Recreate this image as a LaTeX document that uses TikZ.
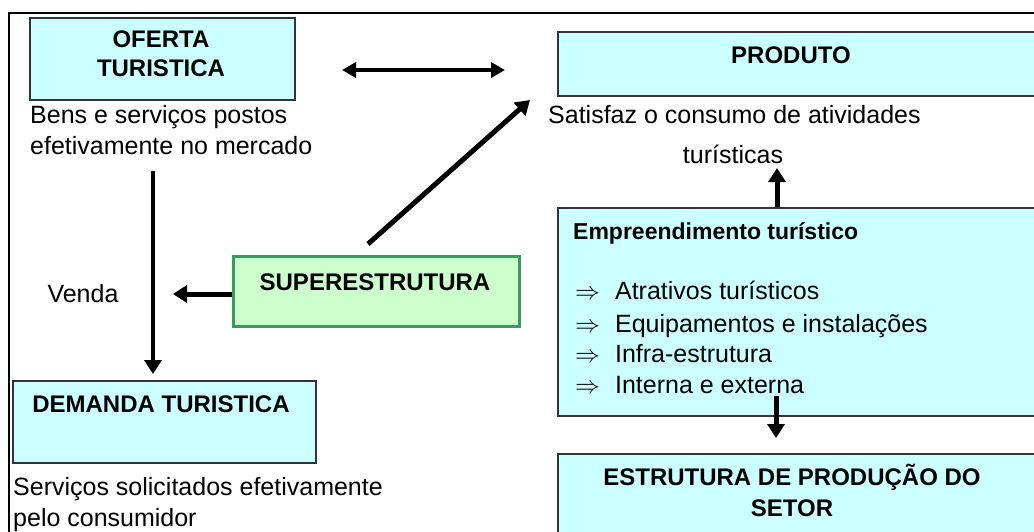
\documentclass[tikz,border=0pt]{standalone}
\usepackage{fontspec}
\setmainfont{Liberation Sans}
\usetikzlibrary{arrows.meta}
\definecolor{cyanfill}{HTML}{CCFFFF}
\definecolor{greenfill}{HTML}{CCFFCC}
\definecolor{greenline}{HTML}{3A9A60}
\definecolor{boxline}{HTML}{333333}
\tikzset{
  cyanbox/.style={draw=boxline, line width=1.5pt, fill=cyanfill, anchor=north west, inner sep=0pt},
  greenbox/.style={draw=greenline, line width=2.5pt, fill=greenfill, anchor=north west, inner sep=0pt},
  ttl/.style={font=\fontsize{24}{29}\selectfont\bfseries, inner sep=0pt, anchor=base},
  txt/.style={font=\fontsize{25}{30}\selectfont, inner sep=0pt, anchor=base west},
  thick arrow/.style={line width=5pt, -{Triangle[length=14pt,width=17pt]}},
}
\begin{document}
\begin{tikzpicture}[x=1pt,y=-1pt]
\useasboundingbox (0,0) rectangle (1034,531);
\clip (0,0) rectangle (1034,531);
\fill[white] (0,0) rectangle (1034,531);
% frame
\draw[line width=2pt] (9,560) -- (9,13) -- (1060,13);
% boxes
\node[cyanbox, minimum width=265pt, minimum height=82pt] (oferta) at (29,17) {};
\node[cyanbox, minimum width=500pt, minimum height=64pt] (produto) at (557,31) {};
\node[cyanbox, minimum width=500pt, minimum height=208pt] (empre) at (557,207) {};
\node[cyanbox, minimum width=500pt, minimum height=120pt] (estrutura) at (557,453) {};
\node[greenbox, minimum width=286pt, minimum height=70pt] (super) at (232,255) {};
\node[cyanbox, minimum width=303pt, minimum height=82pt] (demanda) at (12,380) {};
% titles
\node[ttl] (t1) at (161,47) {OFERTA};
\node[ttl] (t2) at (161,76) {TURISTICA};
\node[ttl] (t3) at (791,63) {PRODUTO};
\node[ttl] (t4) at (375,290) {SUPERESTRUTURA};
\node[ttl] (t5) at (161,412) {DEMANDA TURISTICA};
\node[ttl] (t6) at (792,485) {ESTRUTURA DE PRODUÇÃO DO};
\node[ttl] (t7) at (792,516) {SETOR};
\node[ttl, anchor=base west, font=\fontsize{23}{28}\selectfont\bfseries] (t8) at (573,239) {Empreendimento turístico};
% texts
\node[txt] (bens1) at (30,123) {Bens e serviços postos};
\node[txt] (bens2) at (30,154) {efetivamente no mercado};
\node[txt] (sat1) at (548,123) {Satisfaz o consumo de atividades};
\node[txt, anchor=base] (sat2) at (733,163) {turísticas};
\node[txt, anchor=base] (venda) at (83,302) {Venda};
\node[txt] (serv1) at (13,495) {Serviços solicitados efetivamente};
\node[txt] (serv2) at (13,526) {pelo consumidor};
\node[txt] (i1) at (575,299) {$\Rightarrow$\hspace{15pt}Atrativos turísticos};
\node[txt] (i2) at (575,332) {$\Rightarrow$\hspace{15pt}Equipamentos e instalações};
\node[txt] (i3) at (575,362) {$\Rightarrow$\hspace{15pt}Infra-estrutura};
\node[txt] (i4) at (575,393) {$\Rightarrow$\hspace{15pt}Interna e externa};
% connector end points
\coordinate (da1) at (342,70);
\coordinate (da2) at (505,70);
\coordinate (diagA) at (368,244);
\coordinate (diagB) at (530,100);
\coordinate (upA) at (777,207);
\coordinate (upB) at (777,168);
\coordinate (dnA) at (776,396);
\coordinate (dnB) at (776,438);
\coordinate (vdA) at (153,171);
\coordinate (vdB) at (153,374);
\coordinate (lfB) at (173,294);
% connectors
\draw[line width=3.5pt, {Triangle[length=14pt,width=15pt]}-{Triangle[length=14pt,width=15pt]}] (da1) -- (da2);
\draw[thick arrow] (diagA) -- (diagB);
\draw[thick arrow] (upA) -- (upB);
\draw[thick arrow] (dnA) -- (dnB);
\draw[line width=3.5pt, -{Triangle[length=14pt,width=17pt]}] (vdA) -- (vdB);
\draw[thick arrow] (super.west |- lfB) -- (lfB);
\end{tikzpicture}
\end{document}
